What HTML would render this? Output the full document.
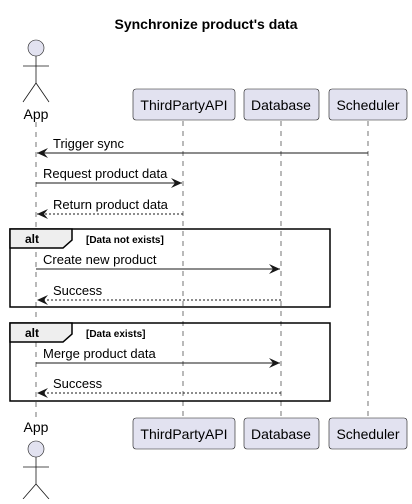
<!DOCTYPE html>
<html><head><style>body{margin:0;background:#fff}</style></head><body>
<svg width="412" height="499" xmlns="http://www.w3.org/2000/svg" font-family="Liberation Sans, sans-serif">
<defs>
<marker id="a" markerWidth="12" markerHeight="10" refX="11" refY="5" orient="auto" markerUnits="userSpaceOnUse"><path d="M0,0 L11,5 L0,10 L4,5 Z" fill="#181818"/></marker>
</defs>
<text x="206" y="29" font-size="14" font-weight="bold" text-anchor="middle">Synchronize product's data</text>
<g stroke="#181818" stroke-width="0.6" stroke-dasharray="5,5">
<line x1="36" y1="122" x2="36" y2="417"/>
<line x1="183" y1="121" x2="183" y2="417"/>
<line x1="281" y1="121" x2="281" y2="417"/>
<line x1="368" y1="121" x2="368" y2="417"/>
</g>
<g fill="#E2E2F0" stroke="#181818" stroke-width="0.6">
<circle cx="36" cy="48" r="8"/>
<rect x="133" y="89" width="102" height="31" rx="3"/>
<rect x="244" y="89" width="75" height="31" rx="3"/>
<rect x="329" y="89" width="78" height="31" rx="3"/>
<rect x="133" y="418" width="102" height="31" rx="3"/>
<rect x="244" y="418" width="75" height="31" rx="3"/>
<rect x="329" y="418" width="78" height="31" rx="3"/>
<circle cx="36" cy="449" r="8"/>
</g>
<g stroke="#181818" stroke-width="0.8" fill="none">
<path d="M36,56 V83 M23,66 H49 M23,102 L36,83 L49,102"/>
<path d="M36,457 V484 M23,467 H49 M23,499 L36,484 L49,499"/>
</g>
<g font-size="14" text-anchor="middle" fill="#000">
<text x="36" y="119">App</text>
<text x="184" y="110">ThirdPartyAPI</text>
<text x="281" y="110">Database</text>
<text x="368" y="110">Scheduler</text>
<text x="36" y="432">App</text>
<text x="184" y="439">ThirdPartyAPI</text>
<text x="281" y="439">Database</text>
<text x="368" y="439">Scheduler</text>
</g>
<g stroke="#000" stroke-width="1.5">
<rect x="10" y="229" width="320" height="78" fill="none"/>
<path d="M10,229 H72 V240 L63,248 H10 Z" fill="#EEEEEE"/>
<rect x="10" y="323" width="320" height="78" fill="none"/>
<path d="M10,323 H72 V334 L63,342 H10 Z" fill="#EEEEEE"/>
</g>
<g font-size="12" font-weight="bold">
<text x="25" y="243">alt</text>
<text x="86" y="243" font-size="10">[Data not exists]</text>
<text x="25" y="337">alt</text>
<text x="86" y="337" font-size="10">[Data exists]</text>
</g>
<g stroke="#181818" stroke-width="1" fill="none">
<line x1="368" y1="153" x2="37" y2="153" marker-end="url(#a)"/>
<line x1="36" y1="183" x2="182" y2="183" marker-end="url(#a)"/>
<line x1="183" y1="214" x2="37" y2="214" stroke-dasharray="2,2" marker-end="url(#a)"/>
<line x1="36" y1="269" x2="280" y2="269" marker-end="url(#a)"/>
<line x1="281" y1="300" x2="37" y2="300" stroke-dasharray="2,2" marker-end="url(#a)"/>
<line x1="36" y1="363" x2="280" y2="363" marker-end="url(#a)"/>
<line x1="281" y1="393" x2="37" y2="393" stroke-dasharray="2,2" marker-end="url(#a)"/>
</g>
<g font-size="13" fill="#000">
<text x="53" y="148">Trigger sync</text>
<text x="43" y="178">Request product data</text>
<text x="53" y="209">Return product data</text>
<text x="43" y="264">Create new product</text>
<text x="53" y="295">Success</text>
<text x="43" y="358">Merge product data</text>
<text x="53" y="388">Success</text>
</g>
</svg>
</body></html>
